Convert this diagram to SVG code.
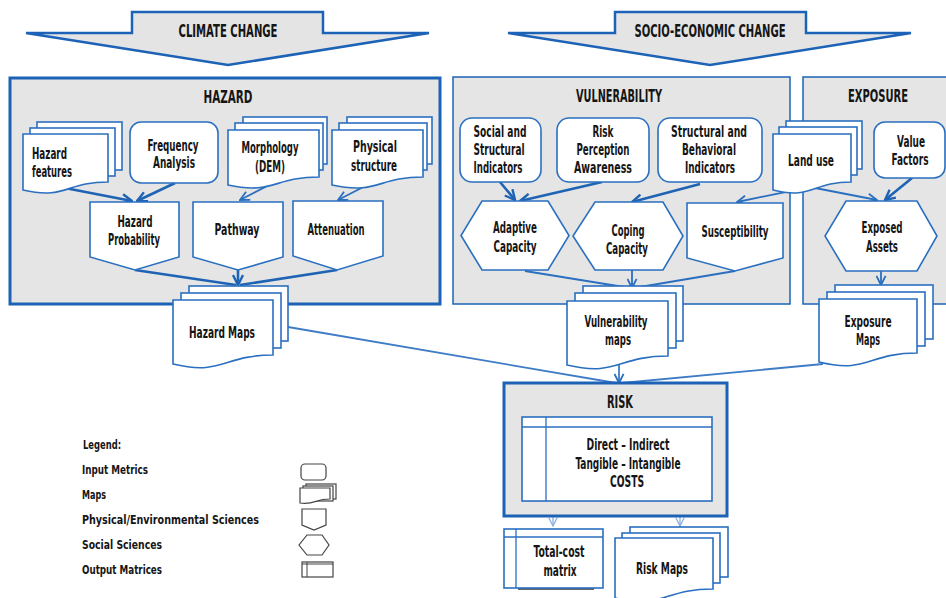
<svg xmlns="http://www.w3.org/2000/svg" width="946" height="598" viewBox="0 0 946 598">
<defs>
<style>
text{font-family:"Liberation Sans Narrow","DejaVu Sans Condensed","Liberation Sans",sans-serif;font-weight:bold;fill:#151515;}
.t{font-size:15px;text-anchor:middle;}
.tl{font-size:15px;}
.h{font-size:17px;text-anchor:middle;}
.lg{font-size:13px;}
.box{fill:#e5e5e5;stroke:#1c63b7;}
.shape{fill:#fff;stroke:#2a6fc0;stroke-width:1.6;}
.arrowbig{fill:#e4e4e4;stroke:#1c63b7;stroke-width:2.5;}
.c{fill:none;stroke:#1f64b4;stroke-width:2.6;}
.cm{fill:none;stroke:#2a6fc0;stroke-width:1.8;}
.cl{fill:none;stroke:#3f7cc6;stroke-width:1.8;}
.ct{fill:none;stroke:#8aaede;stroke-width:1.3;}
.leg{fill:#fff;stroke:#444;stroke-width:1.2;}
</style>
<marker id="a" viewBox="0 0 12 12" refX="11" refY="6" markerWidth="12" markerHeight="12" markerUnits="userSpaceOnUse" orient="auto"><path d="M1,1 L11,6 L1,11" fill="none" stroke="#1f64b4" stroke-width="2.4"/></marker>
<marker id="am" viewBox="0 0 12 12" refX="11" refY="6" markerWidth="11" markerHeight="11" markerUnits="userSpaceOnUse" orient="auto"><path d="M1,1 L11,6 L1,11" fill="none" stroke="#2a6fc0" stroke-width="2"/></marker>
<marker id="at" viewBox="0 0 12 12" refX="11" refY="6" markerWidth="10" markerHeight="10" markerUnits="userSpaceOnUse" orient="auto"><path d="M1,1 L11,6 L1,11" fill="none" stroke="#8aaede" stroke-width="1.5"/></marker>
</defs>
<rect width="946" height="598" fill="#fff"/>

<g id="climate-change">
<path class="arrowbig" d="M132,12 H323 V33 H429 L228,65 L26,33 H132 Z"/>
<text class="h" x="228" y="37" textLength="99" lengthAdjust="spacingAndGlyphs">CLIMATE CHANGE</text>
</g>
<g id="socio-economic-change">
<path class="arrowbig" d="M615,12 H806 V33 H911 L710,65 L508,33 H615 Z"/>
<text class="h" x="710" y="37" textLength="151" lengthAdjust="spacingAndGlyphs">SOCIO-ECONOMIC  CHANGE</text>
</g>

<g id="hazard">
<rect class="box" x="10" y="78" width="430" height="226" stroke-width="3"/>
<text class="h" x="228" y="103" textLength="49" lengthAdjust="spacingAndGlyphs">HAZARD</text>
</g>
<g id="vulnerability">
<rect class="box" x="453" y="77" width="337" height="227" stroke-width="1.5"/>
<text class="h" x="619" y="102" textLength="86" lengthAdjust="spacingAndGlyphs">VULNERABILITY</text>
</g>
<g id="exposure">
<rect class="box" x="803" y="77" width="150" height="227" stroke-width="1.5"/>
<text class="h" x="878" y="102" textLength="60" lengthAdjust="spacingAndGlyphs">EXPOSURE</text>
</g>

<g id="connectors">
<line class="c" x1="65" y1="188" x2="132" y2="201" marker-end="url(#a)"/>
<line class="c" x1="175" y1="183" x2="137" y2="201" marker-end="url(#a)"/>
<line class="cm" x1="277" y1="181" x2="240" y2="200" marker-end="url(#am)"/>
<line class="cm" x1="373" y1="182" x2="338" y2="200" marker-end="url(#am)"/>
<line class="c" x1="135" y1="270" x2="236" y2="285"/>
<line class="c" x1="337" y1="270" x2="240" y2="285"/>
<line class="c" x1="238" y1="270" x2="238" y2="285" marker-end="url(#a)"/>
<line class="c" x1="500" y1="182" x2="515" y2="200" marker-end="url(#a)"/>
<line class="c" x1="602" y1="182" x2="520" y2="201" marker-end="url(#a)"/>
<line class="c" x1="700" y1="184" x2="632" y2="202" marker-end="url(#a)"/>
<line class="cm" x1="810" y1="187" x2="737" y2="202" marker-end="url(#am)"/>
<line class="cm" x1="810" y1="187" x2="877" y2="200" marker-end="url(#am)"/>
<line class="c" x1="912" y1="178" x2="885" y2="200" marker-end="url(#a)"/>
<line class="cm" x1="525" y1="271" x2="630" y2="288"/>
<line class="cm" x1="735" y1="271" x2="634" y2="288"/>
<line class="cm" x1="632" y1="270" x2="632" y2="288" marker-end="url(#am)"/>
<line class="cm" x1="881" y1="271" x2="881" y2="285" marker-end="url(#am)"/>
<line class="cl" x1="288" y1="327" x2="616" y2="383"/>
<line class="cl" x1="823" y1="364" x2="622" y2="383"/>
<line class="cl" x1="619" y1="365" x2="619" y2="383" marker-end="url(#am)"/>
<line class="ct" x1="553" y1="501" x2="553" y2="526" marker-end="url(#at)"/>
<line class="ct" x1="680" y1="501" x2="680" y2="526" marker-end="url(#at)"/>
</g>

<g id="hazard-features">
<rect class="shape" x="37" y="122" width="85" height="48"/>
<rect class="shape" x="30" y="128" width="85" height="48"/>
<path class="shape" d="M23,134 H108 V182 C65.5,182 65.5,200 23,190 Z"/>
<text class="tl" x="32" y="159" textLength="35" lengthAdjust="spacingAndGlyphs">Hazard</text>
<text class="tl" x="32" y="177" textLength="40" lengthAdjust="spacingAndGlyphs">features</text>
</g>
<g id="frequency-analysis">
<rect class="shape" x="130" y="122" width="88" height="61" rx="11"/>
<text class="t" x="173" y="151" textLength="51" lengthAdjust="spacingAndGlyphs">Frequency</text>
<text class="t" x="174" y="168" textLength="42" lengthAdjust="spacingAndGlyphs">Analysis</text>
</g>
<g id="morphology">
<rect class="shape" x="243" y="117" width="84" height="47"/>
<rect class="shape" x="235" y="123" width="88" height="47"/>
<path class="shape" d="M228,130 H319 V177 C273.5,177 273.5,195 228,185 Z"/>
<text class="t" x="270" y="153" textLength="57" lengthAdjust="spacingAndGlyphs">Morphology</text>
<text class="t" x="270" y="172" textLength="30" lengthAdjust="spacingAndGlyphs">(DEM)</text>
</g>
<g id="physical-structure">
<rect class="shape" x="347" y="117" width="85" height="47"/>
<rect class="shape" x="339" y="123" width="88" height="47"/>
<path class="shape" d="M332,130 H423 V177 C377.5,177 377.5,195 332,185 Z"/>
<text class="t" x="375" y="152" textLength="44" lengthAdjust="spacingAndGlyphs">Physical</text>
<text class="t" x="374" y="171" textLength="46" lengthAdjust="spacingAndGlyphs">structure</text>
</g>
<g id="hazard-probability">
<path class="shape" d="M90,202 H179 V257 L135,270 L90,257 Z"/>
<text class="t" x="135" y="227" textLength="35" lengthAdjust="spacingAndGlyphs">Hazard</text>
<text class="t" x="134" y="245" textLength="52" lengthAdjust="spacingAndGlyphs">Probability</text>
</g>
<g id="pathway">
<path class="shape" d="M193,202 H283 V257 L238,270 L193,257 Z"/>
<text class="t" x="237" y="235" textLength="45" lengthAdjust="spacingAndGlyphs">Pathway</text>
</g>
<g id="attenuation">
<path class="shape" d="M293,201 H383 V256 L337,270 L293,256 Z"/>
<text class="t" x="336" y="235" textLength="57" lengthAdjust="spacingAndGlyphs">Attenuation</text>
</g>
<g id="hazard-maps">
<rect class="shape" x="189" y="286" width="99" height="55"/>
<rect class="shape" x="181" y="293" width="100" height="55"/>
<path class="shape" d="M173,300 H273 V355 C223,355 223,376 173,364 Z"/>
<text class="t" x="222" y="338" textLength="66" lengthAdjust="spacingAndGlyphs">Hazard Maps</text>
</g>

<g id="social-structural-indicators">
<rect class="shape" x="460" y="118" width="81" height="64" rx="12"/>
<text class="t" x="500" y="137" textLength="53" lengthAdjust="spacingAndGlyphs">Social and</text>
<text class="t" x="499" y="155" textLength="51" lengthAdjust="spacingAndGlyphs">Structural</text>
<text class="t" x="498" y="173" textLength="49" lengthAdjust="spacingAndGlyphs">Indicators</text>
</g>
<g id="risk-perception-awareness">
<rect class="shape" x="557" y="118" width="92" height="64" rx="12"/>
<text class="t" x="603" y="137" textLength="21" lengthAdjust="spacingAndGlyphs">Risk</text>
<text class="t" x="603" y="155" textLength="53" lengthAdjust="spacingAndGlyphs">Perception</text>
<text class="t" x="603" y="173" textLength="58" lengthAdjust="spacingAndGlyphs">Awareness</text>
</g>
<g id="structural-behavioral-indicators">
<rect class="shape" x="658" y="118" width="104" height="64" rx="12"/>
<text class="t" x="709" y="137" textLength="76" lengthAdjust="spacingAndGlyphs">Structural  and</text>
<text class="t" x="709" y="155" textLength="54" lengthAdjust="spacingAndGlyphs">Behavioral</text>
<text class="t" x="710" y="173" textLength="50" lengthAdjust="spacingAndGlyphs">Indicators</text>
</g>
<g id="adaptive-capacity">
<path class="shape" d="M482,201 H548 L569,235.5 L548,270 H482 L461,235.5 Z"/>
<text class="t" x="515" y="233" textLength="44" lengthAdjust="spacingAndGlyphs">Adaptive</text>
<text class="t" x="515" y="252" textLength="43" lengthAdjust="spacingAndGlyphs">Capacity</text>
</g>
<g id="coping-capacity">
<path class="shape" d="M595,202 H663 L683,236 L663,270 H595 L573,236 Z"/>
<text class="t" x="628" y="236" textLength="33" lengthAdjust="spacingAndGlyphs">Coping</text>
<text class="t" x="627" y="254" textLength="42" lengthAdjust="spacingAndGlyphs">Capacity</text>
</g>
<g id="susceptibility">
<path class="shape" d="M687,203 H783 V258 L735,271 L687,258 Z"/>
<text class="t" x="735" y="237" textLength="67" lengthAdjust="spacingAndGlyphs">Susceptibility</text>
</g>
<g id="vulnerability-maps">
<rect class="shape" x="583" y="286" width="100" height="55"/>
<rect class="shape" x="575" y="293" width="101" height="55"/>
<path class="shape" d="M567,301 H668 V356 C617.5,356 617.5,377 567,365 Z"/>
<text class="t" x="616" y="327" textLength="63" lengthAdjust="spacingAndGlyphs">Vulnerability</text>
<text class="t" x="618" y="345" textLength="26" lengthAdjust="spacingAndGlyphs">maps</text>
</g>

<g id="land-use">
<rect class="shape" x="786" y="121" width="76" height="48"/>
<rect class="shape" x="779" y="127" width="78" height="48"/>
<path class="shape" d="M773,134 H851 V182 C812,182 812,200 773,190 Z"/>
<text class="t" x="811" y="166" textLength="46" lengthAdjust="spacingAndGlyphs">Land use</text>
</g>
<g id="value-factors">
<rect class="shape" x="874" y="122" width="71" height="56" rx="11"/>
<text class="t" x="911" y="147" textLength="28" lengthAdjust="spacingAndGlyphs">Value</text>
<text class="t" x="910" y="165" textLength="37" lengthAdjust="spacingAndGlyphs">Factors</text>
</g>
<g id="exposed-assets">
<path class="shape" d="M846,201 H917 L937,236 L917,271 H846 L825,236 Z"/>
<text class="t" x="882" y="233" textLength="41" lengthAdjust="spacingAndGlyphs">Exposed</text>
<text class="t" x="882" y="252" textLength="32" lengthAdjust="spacingAndGlyphs">Assets</text>
</g>
<g id="exposure-maps">
<rect class="shape" x="835" y="285" width="98" height="54"/>
<rect class="shape" x="827" y="292" width="98" height="54"/>
<path class="shape" d="M819,299 H917 V353 C868,353 868,374 819,362 Z"/>
<text class="t" x="868" y="327" textLength="47" lengthAdjust="spacingAndGlyphs">Exposure</text>
<text class="t" x="868" y="345" textLength="24" lengthAdjust="spacingAndGlyphs">Maps</text>
</g>

<g id="risk">
<rect class="box" x="504" y="383" width="223" height="133" stroke-width="3"/>
<text class="h" x="620" y="408" textLength="26" lengthAdjust="spacingAndGlyphs">RISK</text>
<rect class="shape" x="522" y="417" width="190" height="84" stroke-width="1.3"/>
<line x1="522" y1="427" x2="712" y2="427" stroke="#2a6fc0" stroke-width="1.3"/>
<line x1="546" y1="417" x2="546" y2="501" stroke="#2a6fc0" stroke-width="1.3"/>
<text class="t" x="628" y="450" textLength="83" lengthAdjust="spacingAndGlyphs">Direct  – Indirect</text>
<text class="t" x="628" y="469" textLength="105" lengthAdjust="spacingAndGlyphs">Tangible  – Intangible</text>
<text class="t" x="627" y="487" textLength="34" lengthAdjust="spacingAndGlyphs">COSTS</text>
</g>
<g id="total-cost-matrix">
<rect x="518" y="586" width="76" height="4" fill="#666"/>
<rect class="shape" x="504" y="529" width="99" height="59" stroke-width="1.3"/>
<line x1="504" y1="537" x2="603" y2="537" stroke="#2a6fc0" stroke-width="1.3"/>
<line x1="516" y1="529" x2="516" y2="588" stroke="#2a6fc0" stroke-width="1.3"/>
<text class="t" x="559" y="557" textLength="51" lengthAdjust="spacingAndGlyphs">Total-cost</text>
<text class="t" x="560" y="576" textLength="33" lengthAdjust="spacingAndGlyphs">matrix</text>
</g>
<g id="risk-maps">
<rect class="shape" x="630" y="527" width="98" height="50"/>
<rect class="shape" x="622" y="533" width="98" height="50"/>
<path class="shape" d="M615,538 H713 V589 C664,589 664,609 615,598 Z"/>
<text class="t" x="662" y="574" textLength="52" lengthAdjust="spacingAndGlyphs">Risk Maps</text>
</g>

<g id="legend">
<text class="lg" x="83" y="449" textLength="38" lengthAdjust="spacingAndGlyphs">Legend:</text>
<text class="lg" x="82" y="474" textLength="66" lengthAdjust="spacingAndGlyphs">Input Metrics</text>
<text class="lg" x="82" y="499" textLength="24" lengthAdjust="spacingAndGlyphs">Maps</text>
<text class="lg" x="82" y="524" textLength="177" lengthAdjust="spacingAndGlyphs">Physical/Environmental  Sciences</text>
<text class="lg" x="82" y="549" textLength="80" lengthAdjust="spacingAndGlyphs">Social Sciences</text>
<text class="lg" x="82" y="574" textLength="80" lengthAdjust="spacingAndGlyphs">Output  Matrices</text>
<rect class="leg" x="301" y="464" width="25" height="16" rx="4"/>
<rect class="leg" x="306" y="484" width="30" height="15"/>
<rect class="leg" x="303" y="486" width="30" height="15"/>
<path class="leg" d="M300,488 H330 V499 C315,499 315,505 300,503 Z"/>
<path class="leg" d="M302,509 H326 V525 L314,530 L302,525 Z"/>
<path class="leg" d="M307,535 H322 L329,545 L322,555 H307 L299,545 Z"/>
<rect class="leg" x="302" y="562" width="31" height="15"/>
<line x1="302" y1="564" x2="333" y2="564" stroke="#444" stroke-width="1"/>
<line x1="307" y1="562" x2="307" y2="577" stroke="#444" stroke-width="1"/>
</g>
</svg>
